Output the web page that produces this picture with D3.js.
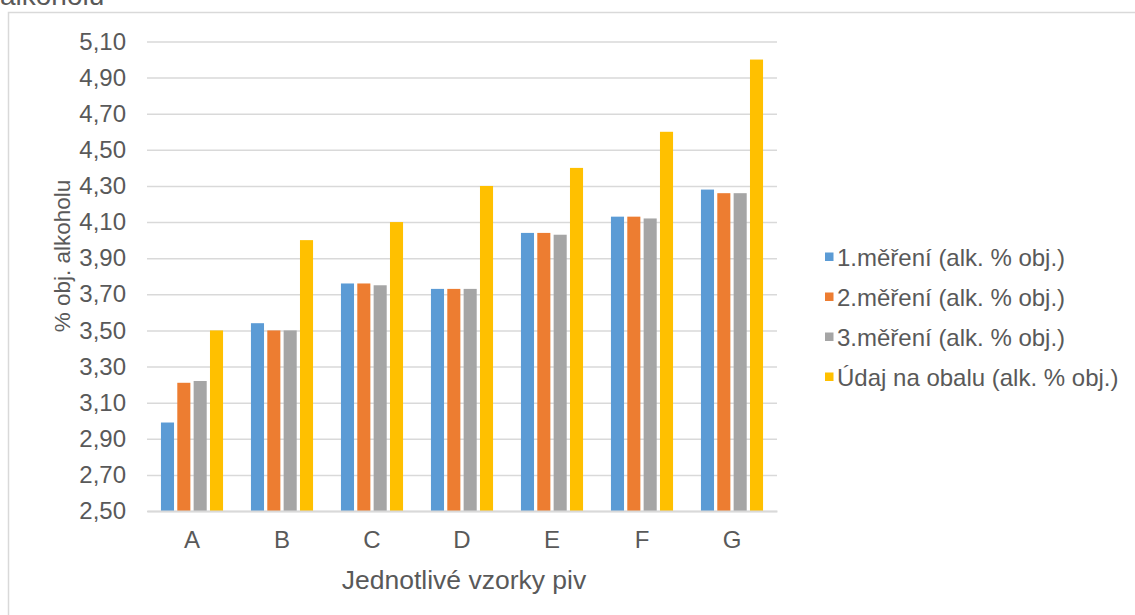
<!DOCTYPE html>
<html>
<head>
<meta charset="utf-8">
<script src="https://cdn.jsdelivr.net/npm/d3@7"></script>
<style>
  html, body { margin: 0; padding: 0; background: #ffffff; }
  svg { display: block; font-family: "Liberation Sans", Arial, sans-serif; }
</style>
</head>
<body>
<svg id="chart" width="1135" height="615"></svg>
<script>
// Beer samples
const categories = ["A", "B", "C", "D", "E", "F", "G"];

// Series names
const seriesNames = [
  "1.měření (alk. % obj.)",
  "2.měření (alk. % obj.)",
  "3.měření (alk. % obj.)",
  "Údaj na obalu (alk. % obj.)"
];

// Alcohol content (% vol.) per sample, one array per series
const mereni1 = [2.99, 3.54, 3.76, 3.73, 4.04, 4.13, 4.28];
const mereni2 = [3.21, 3.50, 3.76, 3.73, 4.04, 4.13, 4.26];
const mereni3 = [3.22, 3.50, 3.75, 3.73, 4.03, 4.12, 4.26];
const udajNaObalu = [3.50, 4.00, 4.10, 4.30, 4.40, 4.60, 5.00];

// Value axis ticks
const yTicks = [2.5, 2.7, 2.9, 3.1, 3.3, 3.5, 3.7, 3.9, 4.1, 4.3, 4.5, 4.7, 4.9, 5.1];

const seriesValues = [mereni1, mereni2, mereni3, udajNaObalu];
const colors = ["#5B9BD5", "#ED7D31", "#A5A5A5", "#FFC000"];

const svg = d3.select("#chart");

const plot = { left: 147, right: 777, top: 41.5, bottom: 511 };

// Outer chart frame
svg.append("rect")
  .attr("x", 8.5).attr("y", 12.5)
  .attr("width", 1140).attr("height", 620)
  .attr("fill", "none").attr("stroke", "#d9d9d9").attr("stroke-width", 1.5);

// Remaining line of the chart title
svg.append("text")
  .attr("x", 0).attr("y", 5)
  .attr("font-size", 28)
  .attr("fill", "#595959")
  .text("alkoholu");

const y = d3.scaleLinear().domain([2.5, 5.1]).range([plot.bottom, plot.top]);

const x0 = d3.scaleBand()
  .domain(categories)
  .range([plot.left, plot.right])
  .paddingInner(0.31)
  .paddingOuter(0.155);

const x1 = d3.scaleBand()
  .domain(d3.range(seriesNames.length))
  .range([0, x0.bandwidth()])
  .paddingInner(0.2)
  .paddingOuter(0);

const fmt = v => d3.format(".2f")(v).replace(".", ",");

// Gridlines and value labels
const yAxis = d3.axisLeft(y)
  .tickValues(yTicks)
  .tickSize(-(plot.right - plot.left))
  .tickPadding(21)
  .tickFormat(fmt);

const gy = svg.append("g")
  .attr("transform", `translate(${plot.left},0)`)
  .call(yAxis);
gy.select(".domain").remove();
gy.selectAll(".tick line")
  .attr("stroke", "#d9d9d9")
  .attr("stroke-width", 1.5);
gy.selectAll(".tick text")
  .attr("fill", "#595959")
  .attr("font-size", 24)
  .attr("font-family", "Liberation Sans, Arial, sans-serif");

// Bars
const groups = svg.append("g")
  .selectAll("g")
  .data(categories)
  .join("g")
  .attr("transform", c => `translate(${x0(c)},0)`);

groups.selectAll("rect")
  .data((c, i) => seriesValues.map((vals, s) => ({ s, v: vals[i] })))
  .join("rect")
  .attr("x", d => x1(d.s))
  .attr("width", x1.bandwidth())
  .attr("y", d => y(d.v))
  .attr("height", d => y(2.5) - y(d.v))
  .attr("fill", d => colors[d.s]);

// Category axis
const xAxis = d3.axisBottom(x0).tickSize(0).tickPadding(20);
const gx = svg.append("g")
  .attr("transform", `translate(0,${plot.bottom})`)
  .call(xAxis);
gx.select(".domain")
  .attr("stroke", "#d9d9d9")
  .attr("stroke-width", 2);
gx.selectAll(".tick text")
  .attr("fill", "#595959")
  .attr("font-size", 24)
  .attr("font-family", "Liberation Sans, Arial, sans-serif");

// Axis titles
svg.append("text")
  .attr("x", (plot.left + plot.right) / 2 + 2)
  .attr("y", 589)
  .attr("text-anchor", "middle")
  .attr("font-size", 26.5)
  .attr("fill", "#595959")
  .text("Jednotlivé vzorky piv");

svg.append("text")
  .attr("transform", `translate(70,${256}) rotate(-90)`)
  .attr("text-anchor", "middle")
  .attr("font-size", 22.5)
  .attr("fill", "#595959")
  .text("% obj. alkoholu");

// Legend
const legend = svg.append("g")
  .selectAll("g")
  .data(seriesNames)
  .join("g")
  .attr("transform", (d, i) => `translate(825,${257 + i * 40})`);

legend.append("rect")
  .attr("x", 0).attr("y", -4.5)
  .attr("width", 8.5).attr("height", 8.5)
  .attr("fill", (d, i) => colors[i]);

legend.append("text")
  .attr("x", 12).attr("y", 8.5)
  .attr("font-size", 24)
  .attr("fill", "#595959")
  .text(d => d);
</script>
</body>
</html>
